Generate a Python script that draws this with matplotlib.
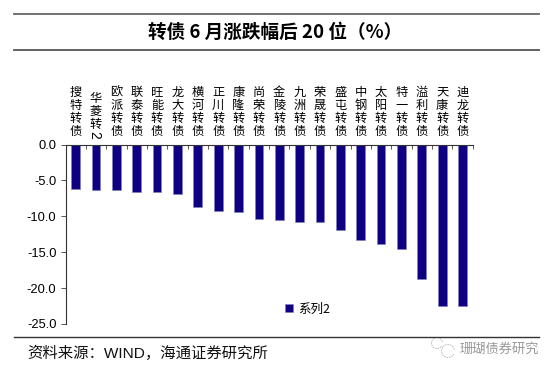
import matplotlib
matplotlib.use("Agg")
import matplotlib.pyplot as plt
from matplotlib.lines import Line2D
from matplotlib.patches import Arc
from matplotlib.ticker import FixedLocator, FormatStrFormatter
import numpy as np

CJK = ['Noto Sans CJK SC', 'Liberation Sans', 'DejaVu Sans']
LATIN = ['Liberation Sans', 'Noto Sans CJK SC', 'DejaVu Sans']
plt.rcParams['font.family'] = LATIN
plt.rcParams['axes.unicode_minus'] = False

names = ["搜特转债", "华菱转2", "欧派转债", "联泰转债", "旺能转债", "龙大转债", "横河转债",
         "正川转债", "康隆转债", "尚荣转债", "金陵转债", "九洲转债", "荣晟转债", "盛屯转债",
         "中钢转债", "太阳转债", "特一转债", "溢利转债", "天康转债", "迪龙转债"]
values = [-6.2, -6.3, -6.4, -6.67, -6.68, -6.9, -8.65, -9.3, -9.35, -10.4,
          -10.47, -10.75, -10.85, -11.85, -13.25, -13.8, -14.55, -18.8, -22.5, -22.55]
yticks = [0, -5, -10, -15, -20, -25]
series_name = "系列2"
title = "转债 6 月涨跌幅后 20 位（%）"
source = "资料来源：WIND，海通证券研究所"
watermark = "珊瑚债券研究"

W, H = 556, 374
fig = plt.figure(figsize=(W / 100, H / 100), dpi=100, facecolor='white')
ax = fig.add_axes([65.5 / W, 1 - 324 / H, (472.7 - 65.5) / W, (324 - 144.5) / H])

x = np.arange(len(names))
bars = ax.bar(x, values, width=0.43, color='#0E0080', edgecolor='#7F7FC0', linewidth=0.4,
              label=series_name, zorder=2)
ax.set_xlim(-0.5, len(names) - 0.5)
ax.set_ylim(-25, 0)

for s in ('right', 'bottom'):
    ax.spines[s].set_visible(False)
for s in ('top', 'left'):
    ax.spines[s].set_linewidth(0.8)
    ax.spines[s].set_color('#333333')

ax.set_yticks(yticks)
ax.yaxis.set_major_formatter(FormatStrFormatter('%.1f'))
ax.tick_params(axis='y', length=3.5, width=0.7, color='#555555', labelsize=9.3, pad=3,
               labelcolor='black')

ax.xaxis.tick_top()
ax.set_xticks(x)
# a trailing Latin digit lies sideways in the vertical label, so it is set apart
stacked = ["\n".join(n[:-1] if n[-1].isascii() else n) for n in names]
ax.set_xticklabels(stacked, family=CJK, fontsize=8.8, linespacing=1.0, va='bottom', ha='center')
ax.tick_params(axis='x', which='major', length=0, pad=5)
for i, n in enumerate(names):
    if n[-1].isascii():
        ax.get_xaxis().get_major_ticks()[i].set_pad(12.5 * 0.72 + 0.5)
        ax.annotate(n[-1], (x[i], 0), xycoords=('data', 'data'), xytext=(-1, 3.8),
                    textcoords='offset points', rotation=-90, ha='center', va='bottom',
                    fontsize=10, family=LATIN, annotation_clip=False)
ax.xaxis.set_minor_locator(FixedLocator(np.arange(-0.5, len(names), 1)))
ax.tick_params(axis='x', which='minor', direction='in', length=3, width=0.7, color='#555555')

ax.legend(handles=[bars], loc='center left',
          bbox_to_anchor=((285 - 65.5) / (472.7 - 65.5), (324 - 309) / (324 - 144.5)),
          frameon=False, prop={'family': CJK, 'size': 9}, handlelength=0.65, handleheight=0.65,
          handletextpad=0.4, borderpad=0, borderaxespad=0)

for yy, c, lw in ((14, '#666666', 1.3), (50, '#555555', 1.3), (337, '#333333', 1.0)):
    fig.add_artist(Line2D([14 / W, 539 / W], [1 - yy / H] * 2, color=c, lw=lw))

fig.text(271 / W + 4.5 / W, 1 - 32 / H, title, family=CJK, fontsize=13.4, fontweight='bold',
         ha='center', va='center', color='black')
fig.text(27 / W, 1 - 353.5 / H, source, family=LATIN, fontsize=11.05, ha='left', va='center', color='#111111')
fig.text(539 / W, 1 - 349.5 / H, watermark, family=CJK, fontsize=9.5, ha='right', va='center', color='#999999')

# watermark icon
def circ(cx, cy, rx):
    fig.add_artist(Arc((cx / W, 1 - cy / H), 2 * rx / W, 2 * rx / H, theta1=20, theta2=320,
                       transform=fig.transFigure, color='#B5B5B5', lw=0.6, ls=(0, (2, 1))))
circ(437, 343, 5.5)
circ(448, 351, 6.5)

fig.savefig('out.png', dpi=100, facecolor='white')
